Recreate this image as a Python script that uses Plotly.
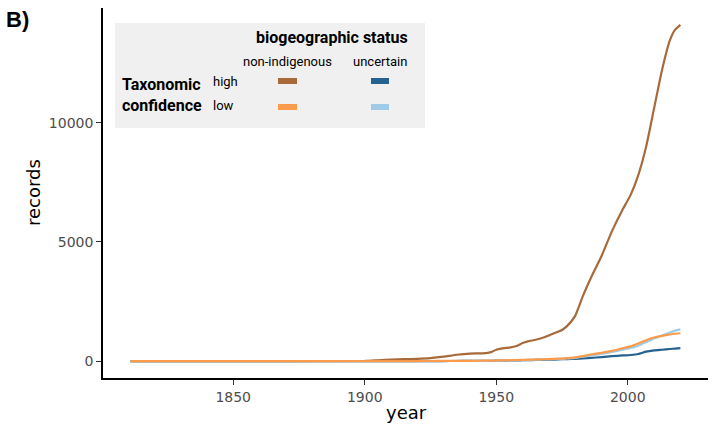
import plotly.graph_objects as go

years = [1811, 1850, 1900, 1905, 1910, 1915, 1920, 1925, 1930, 1935, 1940, 1945, 1948,
         1950, 1953, 1955, 1958, 1960, 1962, 1965, 1968, 1970, 1972, 1975, 1977, 1980,
         1983, 1986, 1990, 1994, 1998, 2001, 2004, 2007, 2010, 2013, 2016, 2018, 2020]

nonindig_high = [0, 5, 10, 40, 70, 85, 100, 130, 190, 270, 320, 330, 380,
                 480, 550, 570, 650, 760, 830, 900, 990, 1080, 1170, 1310, 1480, 1900,
                 2750, 3500, 4400, 5450, 6350, 6950, 7800, 9000, 10600, 12200, 13450, 13900, 14100]

nonindig_low = [0, 0, 0, 2, 4, 5, 6, 8, 10, 12, 15, 20, 25,
                30, 38, 42, 50, 55, 62, 72, 82, 90, 98, 110, 125, 160,
                215, 280, 350, 430, 540, 620, 740, 880, 990, 1060, 1120, 1150, 1170]

uncertain_low = [0, 0, 0, 1, 2, 3, 4, 5, 7, 9, 11, 14, 18,
                 22, 28, 32, 40, 45, 52, 62, 72, 80, 88, 100, 115, 140,
                 190, 240, 310, 390, 480, 550, 650, 800, 950, 1080, 1200, 1280, 1330]

uncertain_high = [0, 0, 0, 1, 2, 3, 4, 5, 6, 8, 10, 12, 15,
                  20, 25, 28, 35, 40, 44, 50, 56, 60, 68, 80, 88, 100,
                  120, 140, 170, 210, 240, 260, 300, 400, 450, 480, 510, 530, 545]

y_ticks = [0, 5000, 10000]
x_ticks = [1850, 1900, 1950, 2000]

c_brown = "#a86a3b"
c_orange = "#fd9b4d"
c_dblue = "#25628f"
c_lblue = "#9fcbe9"

fig = go.Figure()
for vals, col, name in [(nonindig_high, c_brown, "non-indigenous, high"),
                        (uncertain_high, c_dblue, "uncertain, high"),
                        (uncertain_low, c_lblue, "uncertain, low"),
                        (nonindig_low, c_orange, "non-indigenous, low")]:
    fig.add_trace(go.Scatter(x=years, y=vals, mode="lines", name=name,
                             line=dict(color=col, width=2.2, shape="spline", smoothing=0.5),
                             showlegend=False))

# plot area in pixels: x 103..708, y 8..378
L, R, T, B = 103, 708, 8, 378
def px(x):
    return (x - L) / (R - L)
def py(y):
    return (B - y) / (B - T)

shapes = [
    dict(type="rect", xref="paper", yref="paper", x0=px(115), x1=px(425), y0=py(128), y1=py(23),
         fillcolor="#f0f0f0", line=dict(width=0), layer="below"),
]
sw = [(278, 297, 81, c_brown), (371, 389, 81, c_dblue), (278, 297, 107, c_orange), (371, 389, 107, c_lblue)]
for x0, x1, yc, col in sw:
    shapes.append(dict(type="rect", xref="paper", yref="paper", x0=px(x0), x1=px(x1),
                       y0=py(yc + 3), y1=py(yc - 3), fillcolor=col, line=dict(width=0)))

def ann(text, x, y, size, bold=False, color="black", family="Roboto", xanchor="center", angle=0):
    return dict(text=("<b>%s</b>" % text) if bold else text, x=px(x), y=py(y), xref="paper", yref="paper",
                showarrow=False, xanchor=xanchor, yanchor="middle", textangle=angle,
                font=dict(size=size, color=color, family=family))

annotations = [
    ann("B)", 4, 19, 22, bold=True, family="Liberation Sans", xanchor="left"),
    ann("biogeographic status", 332, 38, 16, bold=True),
    ann("non-indigenous", 287, 62, 13),
    ann("uncertain", 380, 62, 13),
    ann("Taxonomic", 120, 84, 16, bold=True, xanchor="left"),
    ann("confidence", 120, 105, 16, bold=True, xanchor="left"),
    ann("high", 211, 81, 13, xanchor="left"),
    ann("low", 211, 106, 13, xanchor="left"),
    ann("records", 33, 193, 18, family="DejaVu Sans", angle=-90),
    ann("year", 406, 412, 18, family="DejaVu Sans"),
]

fig.update_layout(
    width=712, height=425,
    margin=dict(l=L, r=712 - R, t=T, b=425 - B),
    paper_bgcolor="white", plot_bgcolor="white",
    shapes=shapes, annotations=annotations,
    xaxis=dict(range=[1800.5, 2030.5], tickvals=x_ticks, ticktext=[str(v) for v in x_ticks],
               showgrid=False, zeroline=False, showline=True, linecolor="black", linewidth=1.6,
               ticks="outside", ticklen=5, tickwidth=1.2, tickcolor="#333333",
               tickfont=dict(family="DejaVu Sans", size=14, color="#4d4d4d")),
    yaxis=dict(range=[-705, 14805], tickvals=y_ticks, ticktext=[str(v) for v in y_ticks],
               showgrid=False, zeroline=False, showline=True, linecolor="black", linewidth=1.6,
               ticks="outside", ticklen=5, tickwidth=1.2, tickcolor="#333333",
               tickfont=dict(family="DejaVu Sans", size=14, color="#4d4d4d")),
)

fig.write_html("out.html", config={"displayModeBar": False},
               post_script="document.body.style.margin='0';document.body.style.overflow='hidden';")
